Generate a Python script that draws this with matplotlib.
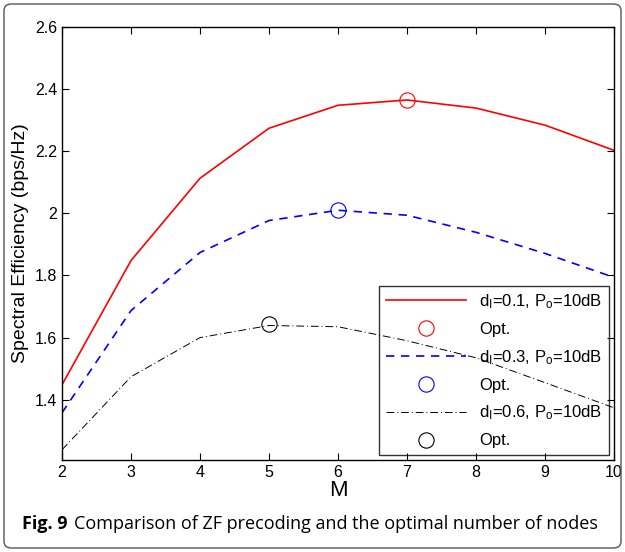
import matplotlib
matplotlib.use("Agg")
import matplotlib.pyplot as plt
from matplotlib.patches import FancyBboxPatch

plt.rcParams["font.family"] = ["Liberation Sans", "DejaVu Sans"]
plt.rcParams["mathtext.fontset"] = "custom"
plt.rcParams["mathtext.rm"] = "Liberation Sans"
plt.rcParams["mathtext.it"] = "Liberation Sans:italic"

M = [2, 3, 4, 5, 6, 7, 8, 9, 10]
se_d01 = [1.448, 1.848, 2.113, 2.274, 2.348, 2.365, 2.339, 2.284, 2.203]
se_d03 = [1.358, 1.687, 1.874, 1.977, 2.010, 1.994, 1.939, 1.871, 1.794]
se_d06 = [1.239, 1.474, 1.600, 1.639, 1.635, 1.590, 1.535, 1.455, 1.374]
opt_M = [7, 6, 5]
opt_se = [2.365, 2.010, 1.645]
labels = [r"d$_{\rm I}$=0.1, P$_{\rm o}$=10dB",
          r"d$_{\rm I}$=0.3, P$_{\rm o}$=10dB",
          r"d$_{\rm I}$=0.6, P$_{\rm o}$=10dB"]

fig = plt.figure(figsize=(6.25, 5.52), dpi=100)
ax = fig.add_axes([62 / 625, 92 / 552, 552 / 625, 433 / 552])

# rounded frame around whole figure
frame = FancyBboxPatch((4 / 625, 4 / 552), 617 / 625, 544 / 552,
                       boxstyle="round,pad=0,rounding_size=0.012",
                       transform=fig.transFigure, fill=False,
                       edgecolor="#555555", linewidth=1.0)
fig.patches.append(frame)

styles = [("red", "-"), ("blue", (0, (5, 4))), ("black", (0, (8, 3, 1, 3)))]
series = [se_d01, se_d03, se_d06]
for i, (vals, (c, ls)) in enumerate(zip(series, styles)):
    lw = 1.2 if i < 2 else 0.7
    ax.plot(M, vals, color=c, linestyle=ls, linewidth=lw, label=labels[i])
    ax.plot(opt_M[i], opt_se[i], linestyle="none", marker="o", markersize=11,
            markerfacecolor="none", markeredgecolor=c, markeredgewidth=0.8,
            label="Opt.")

ax.set_xlim(2, 10)
ax.set_ylim(1.206, 2.6)
ax.set_xticks(range(2, 11))
ax.set_yticks([1.4, 1.6, 1.8, 2.0, 2.2, 2.4, 2.6])
ax.set_yticklabels(["1.4", "1.6", "1.8", "2", "2.2", "2.4", "2.6"])
ax.tick_params(direction="in", labelsize=11.5, top=True, right=True, length=5)
for s in ax.spines.values():
    s.set_linewidth(1.0)
ax.set_xlabel("M", fontsize=16, labelpad=0)
ax.set_ylabel("Spectral Efficiency (bps/Hz)", fontsize=14, labelpad=4)

# legend box is see-through in the original: the dash-dot line shows behind it
leg = ax.legend(loc="lower right", fontsize=12, frameon=True, fancybox=False,
                edgecolor="black", facecolor="none", framealpha=None,
                handlelength=4.8, borderaxespad=0.3, labelspacing=0.66)
leg.get_frame().set_linewidth(1.0)

cap_y = 1 - 524 / 552
fig.text(22 / 625, cap_y, "Fig. 9", fontsize=13, fontweight="bold",
         family=["Open Sans", "DejaVu Sans"], va="center")
fig.text(74 / 625, cap_y, "Comparison of ZF precoding and the optimal number of nodes",
         fontsize=13, family=["Open Sans", "DejaVu Sans"], va="center")

fig.savefig("out.png", dpi=100)
